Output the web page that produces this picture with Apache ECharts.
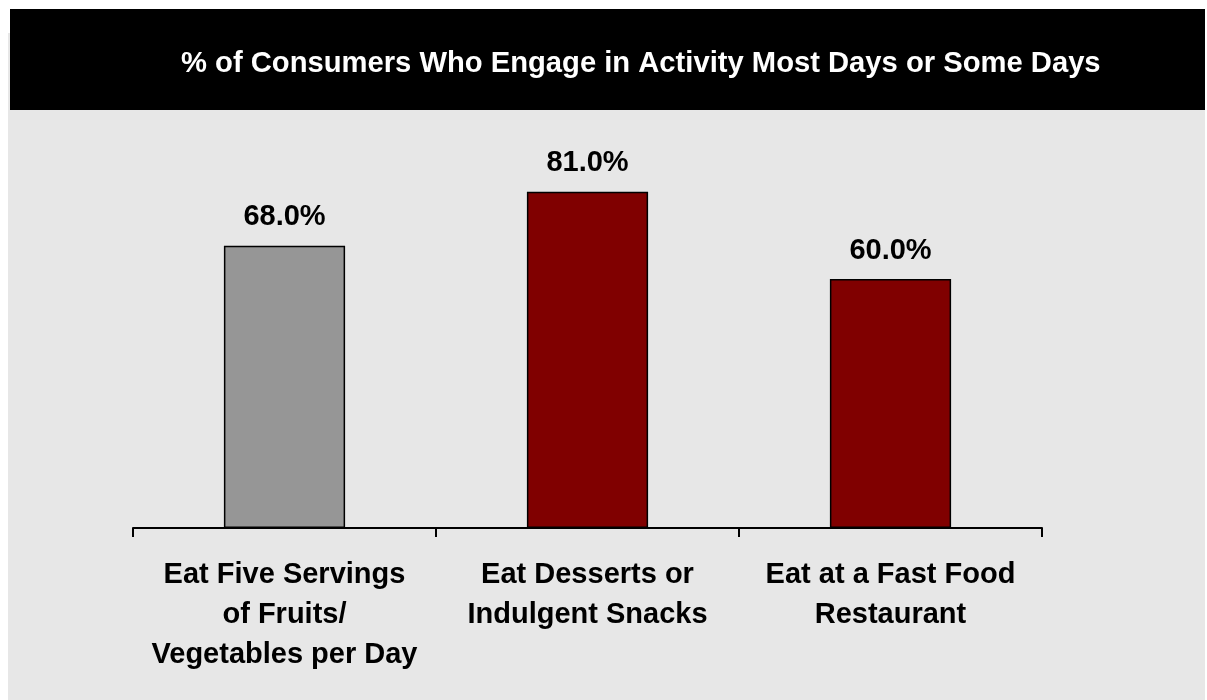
<!DOCTYPE html>
<html>
<head>
<meta charset="utf-8">
<style>
  html, body { margin: 0; padding: 0; background: #ffffff; }
  #chart { width: 1207px; height: 700px; }
</style>
<script src="https://cdn.jsdelivr.net/npm/echarts@6/dist/echarts.min.js"></script>
</head>
<body>
<div id="chart"></div>
<script>
// Share of consumers doing each activity most days or some days
const titleText = '% of Consumers Who Engage in Activity Most Days or Some Days';
const categories = [
  'Eat Five Servings\nof Fruits/\nVegetables per Day',
  'Eat Desserts or\nIndulgent Snacks',
  'Eat at a Fast Food\nRestaurant'
];
const values = [68.0, 81.0, 60.0];
const barColors = ['#969696', '#800000', '#800000'];

const FONT = '"Liberation Sans", Arial, Helvetica, sans-serif';

const chart = echarts.init(document.getElementById('chart'), null, { renderer: 'canvas' });

chart.setOption({
  backgroundColor: '#ffffff',
  animation: false,
  graphic: [
    { type: 'rect', z: -10, silent: true,
      shape: { x: 8, y: 33, width: 1197, height: 667 },
      style: { fill: '#e7e7e7' } },
    { type: 'rect', z: -9, silent: true,
      shape: { x: 10, y: 9, width: 1195, height: 101 },
      style: { fill: '#000000' } }
  ],
  title: {
    text: titleText,
    left: 181,
    top: 49,
    padding: 0,
    textStyle: { color: '#ffffff', fontFamily: FONT, fontWeight: 'bold', fontSize: 29.2 }
  },
  grid: { left: 133, right: 165, top: 113, bottom: 172, containLabel: false },
  xAxis: {
    type: 'category',
    data: categories,
    boundaryGap: true,
    axisLine: { show: true, lineStyle: { color: '#000000', width: 2 } },
    axisTick: { show: true, length: 9, alignWithLabel: false, lineStyle: { color: '#000000', width: 2 } },
    axisLabel: {
      margin: 27,
      color: '#000000',
      fontFamily: FONT,
      fontWeight: 'bold',
      fontSize: 29,
      lineHeight: 40,
      align: 'center',
      interval: 0
    }
  },
  yAxis: {
    type: 'value',
    min: 0,
    max: 100,
    show: false,
    splitLine: { show: false }
  },
  series: [{
    type: 'bar',
    barWidth: '40%',
    data: values.map((v, i) => ({
      value: v,
      itemStyle: { color: barColors[i], borderColor: '#000000', borderWidth: 1.5 }
    })),
    label: {
      show: true,
      position: 'top',
      distance: 14,
      color: '#000000',
      fontFamily: FONT,
      fontWeight: 'bold',
      fontSize: 29,
      formatter: p => p.value.toFixed(1) + '%'
    }
  }]
});
</script>
</body>
</html>
